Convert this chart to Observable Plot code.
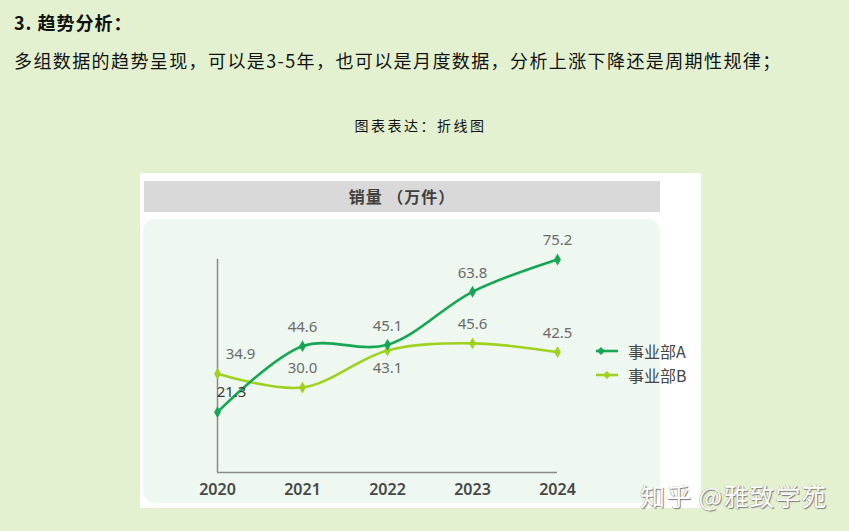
<!DOCTYPE html>
<html>
<head>
<meta charset="utf-8">
<script src="https://cdn.jsdelivr.net/npm/d3@7"></script>
<script src="https://cdn.jsdelivr.net/npm/@observablehq/plot@0.6"></script>
<style>
  html, body { margin: 0; padding: 0; }
  body { width: 849px; height: 531px; background: #e3f1d0; position: relative; overflow: hidden;
         font-family: "Noto Sans CJK SC", "Noto Sans", sans-serif; color: #111; }
  .abs { position: absolute; white-space: nowrap; }
  #h { left: 14px; top: 9px; font-size: 18px; line-height: 26px; font-weight: bold; letter-spacing: 1px; }
  #p { left: 14px; top: 47px; font-size: 18px; line-height: 26px; letter-spacing: 1.4px; }
  #cap { left: 0; width: 841px; text-align: center; top: 114px; font-size: 14px; line-height: 22px; letter-spacing: 2.5px; }
  #card { left: 140px; top: 173px; width: 561px; height: 335px; background: #ffffff; }
  #bar { position: absolute; left: 4px; top: 8px; width: 516px; height: 31px; background: #d9d9d9;
         text-align: center; font-size: 16px; line-height: 31px; font-weight: bold; color: #404040; letter-spacing: 1px; }
  #panel { position: absolute; left: 3px; top: 46px; width: 517px; height: 284px; background: #eef8f0; border-radius: 12px; }
  #chart { position: absolute; left: 0; top: 0; }
  #legend { position: absolute; left: 455px; top: 166px; font-size: 16px; color: #444; }
  #legend .item { display: flex; align-items: center; height: 24px; }
  #legend svg { margin-right: 9px; }
  #wm { left: 640px; top: 478px; font-size: 25px; line-height: 34px; color: #ffffff; letter-spacing: 1px;
        text-shadow: 1px 1px 1px #7a7a7a, -0.5px -0.5px 0.5px #9a9a9a; }
</style>
</head>
<body>
<div id="h" class="abs">3. 趋势分析：</div>
<div id="p" class="abs">多组数据的趋势呈现，可以是3-5年，也可以是月度数据，分析上涨下降还是周期性规律；</div>
<div id="cap" class="abs">图表表达：折线图</div>
<div id="card" class="abs">
  <div id="bar">销量 （万件）</div>
  <div id="panel"></div>
  <div id="chart"></div>
  <div id="legend"></div>
</div>
<div id="wm" class="abs">知乎 @雅致学苑</div>
<script>
// ---- data ----
const years = ["2020", "2021", "2022", "2023", "2024"];
const seriesNames = ["事业部A", "事业部B"];
const valuesA = [21.3, 44.6, 45.1, 63.8, 75.2];
const valuesB = [34.9, 30.0, 43.1, 45.6, 42.5];

// ---- styling ----
const colors = {"事业部A": "#17a653", "事业部B": "#9fd21e"};
// label placement (pixel offsets relative to the point)
const labelOffsets = {
  "事业部A|2020": [14, -20],
  "事业部B|2020": [23, -19],
  "事业部B|2022": [0, 18]
};
const labelFill = {"事业部A|2020": "#383838"};

const rows = [];
years.forEach((y, i) => {
  rows.push({series: seriesNames[0], year: y, value: valuesA[i]});
  rows.push({series: seriesNames[1], year: y, value: valuesB[i]});
});
rows.forEach(d => {
  const k = d.series + "|" + d.year;
  const o = labelOffsets[k] || [0, -19];
  d.dx = o[0]; d.dy = o[1];
  d.lf = labelFill[k] || "#6b6b6b";
});
const fmt = d3.format(".1f");
const drawOrder = [seriesNames[1], seriesNames[0]];
const yMax = d3.max(rows, d => d.value);

const marks = [
  Plot.ruleY([0], {stroke: "#8a8a8a", strokeWidth: 1.5}),
  Plot.ruleX([years[0]], {y1: 0, y2: yMax, stroke: "#8a8a8a", strokeWidth: 1.5}),
  Plot.axisX({tickSize: 0, tickPadding: 11, fontSize: 16, fontWeight: 600, fill: "#474747",
              fontFamily: "Noto Sans, sans-serif", label: null})
];
for (const s of drawOrder) {
  const data = rows.filter(d => d.series === s);
  marks.push(Plot.line(data, {x: "year", y: "value", stroke: colors[s], strokeWidth: 2.6, curve: "catmull-rom"}));
  marks.push(Plot.dot(data, {x: "year", y: "value", symbol: "diamond", r: 3.6, fill: colors[s], stroke: "none"}));
}
for (const s of drawOrder) {
  const data = rows.filter(d => d.series === s);
  data.forEach(d => {
    marks.push(Plot.text([d], {x: "year", y: "value", text: r => fmt(r.value), dx: d.dx, dy: d.dy,
      fill: d.lf, fontSize: 15, fontFamily: "Noto Sans, sans-serif"}));
  });
}

const chart = Plot.plot({
  width: 561, height: 335,
  marginLeft: 77, marginRight: 144, marginTop: 86, marginBottom: 36,
  style: {background: "transparent", overflow: "visible"},
  x: {type: "point", domain: years, padding: 0, label: null},
  y: {domain: [0, yMax], axis: null},
  marks
});
document.getElementById("chart").appendChild(chart);

// legend
const leg = document.getElementById("legend");
const diamondX = {"事业部A": 6, "事业部B": 12};
seriesNames.forEach(s => {
  const item = document.createElement("div");
  item.className = "item";
  const c = colors[s];
  const cx = diamondX[s];
  item.innerHTML = `<svg width="24" height="10"><line x1="1" y1="5" x2="23" y2="5" stroke="${c}" stroke-width="2.6"/>` +
    `<path d="M${cx},1 L${cx+4},5 L${cx},9 L${cx-4},5 Z" fill="${c}"/></svg><span>${s}</span>`;
  leg.appendChild(item);
});
</script>
</body>
</html>
